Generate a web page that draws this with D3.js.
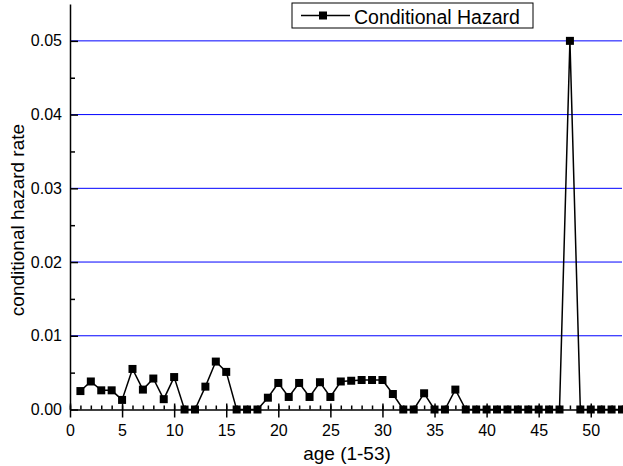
<!DOCTYPE html>
<html>
<head>
<meta charset="utf-8">
<script src="https://cdnjs.cloudflare.com/ajax/libs/d3/7.8.5/d3.min.js"></script>
<style>
  body { margin: 0; background: #fff; }
  text { font-family: "Liberation Sans", Arial, sans-serif; fill: #000; }
</style>
</head>
<body>
<div id="chart"></div>
<script>
// ages 1..53 and the hazard
var ages = d3.range(1, 54);
var hazard = [
  0.0025, 0.0038, 0.0026, 0.0026, 0.0013, 0.0055, 0.0027, 0.0042, 0.0014, 0.0044,
  0, 0, 0.0031, 0.0065, 0.0051, 0, 0, 0, 0.0016, 0.0036,
  0.0017, 0.0036, 0.0017, 0.0037, 0.0017, 0.0038, 0.0039, 0.0040, 0.0040, 0.0040,
  0.0021, 0, 0, 0.0022, 0, 0, 0.0027, 0, 0, 0,
  0, 0, 0, 0, 0, 0, 0, 0.05, 0, 0,
  0, 0, 0
];
var xMajor = [0, 5, 10, 15, 20, 25, 30, 35, 40, 45, 50];
var yMajor = [0, 0.01, 0.02, 0.03, 0.04, 0.05];
var gridValues = [0.01, 0.02, 0.03, 0.04, 0.05];
var seriesName = "Conditional Hazard";

var svgWidth = 623;
var svgHeight = 466;

var svg = d3.select("#chart")
  .append("svg")
  .attr("width", svgWidth)
  .attr("height", svgHeight);

var x = d3.scaleLinear().domain([0, 53]).range([70, 622]);
var y = d3.scaleLinear().domain([0, 0.055]).range([409.5, 4]);

var data = ages.map((a, i) => ({ age: a, v: hazard[i] }));

// blue grid lines
svg.append("g")
  .selectAll("line")
  .data(gridValues)
  .enter()
  .append("line")
  .attr("x1", 70)
  .attr("x2", 622)
  .attr("y1", d => y(d))
  .attr("y2", d => y(d))
  .attr("stroke", "#0000ff")
  .attr("stroke-width", 1);

// minor ticks
svg.append("g")
  .attr("transform", `translate(0, ${y(0)})`)
  .call(d3.axisBottom(x).tickValues(d3.range(0, 54)).tickSize(-4).tickFormat(""))
  .call(g => g.select(".domain").remove());

svg.append("g")
  .attr("transform", `translate(${x(0)}, 0)`)
  .call(d3.axisLeft(y).tickValues(d3.range(0.005, 0.055, 0.01)).tickSize(-5).tickFormat(""))
  .call(g => g.select(".domain").remove());

// x axis
var xAxis = svg.append("g")
  .attr("transform", `translate(0, ${y(0)})`)
  .call(d3.axisBottom(x).tickValues(xMajor).tickSizeInner(8).tickSizeOuter(0).tickPadding(7.5));
xAxis.selectAll(".tick line").attr("y1", -6);

// y axis
svg.append("g")
  .attr("transform", `translate(${x(0)}, 0)`)
  .call(d3.axisLeft(y).tickValues(yMajor).tickSizeInner(-8).tickSizeOuter(0).tickPadding(8)
    .tickFormat(d3.format(".2f")));

svg.selectAll(".tick text").attr("font-size", "16px").attr("font-family", null);
svg.selectAll(".domain, .tick line").attr("stroke-width", 1.5);

// series
svg.append("path")
  .datum(data)
  .attr("fill", "none")
  .attr("stroke", "#000")
  .attr("stroke-width", 1.5)
  .attr("d", d3.line().x(d => x(d.age)).y(d => y(d.v)));

svg.append("g")
  .selectAll("rect")
  .data(data)
  .enter()
  .append("rect")
  .attr("x", d => x(d.age) - 4)
  .attr("y", d => y(d.v) - 4)
  .attr("width", 8)
  .attr("height", 8)
  .attr("fill", "#000");

// labels
svg.append("text")
  .attr("x", 347)
  .attr("y", 460)
  .attr("text-anchor", "middle")
  .attr("font-size", "19px")
  .text("age (1-53)");

svg.append("text")
  .attr("transform", "translate(24, 220) rotate(-90)")
  .attr("text-anchor", "middle")
  .attr("font-size", "19px")
  .text("conditional hazard rate");

// legend
var legend = svg.append("g");
legend.append("rect")
  .attr("x", 292).attr("y", 3)
  .attr("width", 241).attr("height", 25)
  .attr("fill", "#fff")
  .attr("stroke", "#000");
legend.append("line")
  .attr("x1", 301).attr("x2", 350)
  .attr("y1", 15.5).attr("y2", 15.5)
  .attr("stroke", "#000").attr("stroke-width", 1.5);
legend.append("rect")
  .attr("x", 319).attr("y", 11.5)
  .attr("width", 8).attr("height", 8)
  .attr("fill", "#000");
legend.append("text")
  .attr("x", 354).attr("y", 23.5)
  .attr("font-size", "19.5px")
  .text(seriesName);
</script>
</body>
</html>
